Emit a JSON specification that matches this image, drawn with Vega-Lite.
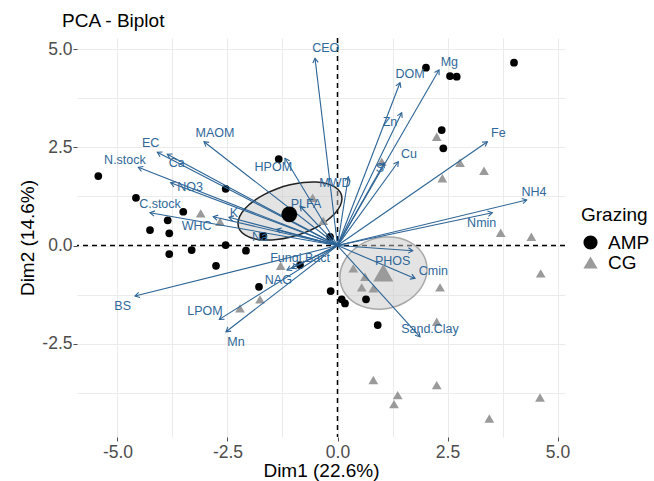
{
  "$schema": "https://vega.github.io/schema/vega-lite/v6.json",
  "autosize": "none",
  "width": 488,
  "height": 399,
  "padding": {"left": 77, "top": 38, "right": 89, "bottom": 44},
  "background": "white",
  "title": {"text": "PCA - Biplot", "anchor": "start", "frame": "group", "dx": -15, "dy": 19, "fontSize": 19, "font": "Liberation Sans", "fontWeight": "normal", "color": "black", "offset": 10, "baseline": "alphabetic"},
  "config": {
    "view": {"stroke": null},
    "font": "Liberation Sans",
    "axis": {"grid": true, "gridColor": "#ebebeb", "gridWidth": 1, "domain": false, "tickColor": "#4d4d4d", "tickSize": 4, "labelPadding": 1, "labelFontSize": 17.5, "labelColor": "#4d4d4d", "titleFontSize": 19, "titleFontWeight": "normal", "titleColor": "black", "labelFont": "Liberation Sans", "titleFont": "Liberation Sans",
      "labelExpr": "abs(datum.value % 2.5) < 0.01 ? replace(format(datum.value, '.1f'), '\u2212', '-') : ''",
      "tickOpacity": {"condition": {"test": "abs(datum.value % 2.5) > 0.01", "value": 0}, "value": 1}},
    "axisX": {"titlePadding": 1, "labelPadding": 2},
    "axisY": {"titlePadding": 4},
    "legend": {"titleFontSize": 19, "titleFontWeight": "normal", "labelFontSize": 19, "labelColor": "black", "titleColor": "black", "titleFont": "Liberation Sans", "labelFont": "Liberation Sans"}
  },
  "datasets": {
    "pts": [
      {"x": -5.436, "y": 1.768, "g": "AMP"}, {"x": -4.58, "y": 1.216, "g": "AMP"}, {"x": -3.505, "y": 0.86, "g": "AMP"},
      {"x": -3.859, "y": 0.641, "g": "AMP"}, {"x": -4.261, "y": 0.394, "g": "AMP"}, {"x": -3.823, "y": 0.31, "g": "AMP"},
      {"x": -2.541, "y": 1.445, "g": "AMP"}, {"x": -1.336, "y": 2.201, "g": "AMP"}, {"x": -1.686, "y": 0.249, "g": "AMP"},
      {"x": -0.17, "y": 0.224, "g": "AMP"}, {"x": -2.541, "y": 0.013, "g": "AMP"}, {"x": -3.823, "y": -0.216, "g": "AMP"},
      {"x": -3.314, "y": -0.115, "g": "AMP"}, {"x": -2.08, "y": -0.132, "g": "AMP"}, {"x": -2.761, "y": -0.514, "g": "AMP"},
      {"x": -1.784, "y": -1.048, "g": "AMP"}, {"x": -0.852, "y": -0.496, "g": "AMP"}, {"x": -0.155, "y": -1.158, "g": "AMP"},
      {"x": 0.095, "y": -1.369, "g": "AMP"}, {"x": 0.17, "y": -1.471, "g": "AMP"}, {"x": 0.648, "y": -1.369, "g": "AMP"},
      {"x": 0.914, "y": -2.023, "g": "AMP"}, {"x": 2.011, "y": 4.524, "g": "AMP"}, {"x": 2.557, "y": 4.313, "g": "AMP"},
      {"x": 2.709, "y": 4.295, "g": "AMP"}, {"x": 4.011, "y": 4.651, "g": "AMP"}, {"x": 2.368, "y": 2.939, "g": "AMP"},
      {"x": 2.405, "y": 2.473, "g": "AMP"},
      {"x": -3.109, "y": 0.819, "g": "CG"}, {"x": -2.67, "y": 0.606, "g": "CG"}, {"x": -0.564, "y": 1.216, "g": "CG"},
      {"x": -0.323, "y": 0.631, "g": "CG"}, {"x": -1.291, "y": -0.514, "g": "CG"}, {"x": -2.216, "y": -1.598, "g": "CG"},
      {"x": -1.761, "y": -1.369, "g": "CG"}, {"x": 0.359, "y": -0.58, "g": "CG"}, {"x": 0.625, "y": -0.794, "g": "CG"},
      {"x": 0.55, "y": -1.064, "g": "CG"}, {"x": 0.814, "y": -1.089, "g": "CG"}, {"x": 2.33, "y": -1.064, "g": "CG"},
      {"x": 2.255, "y": -1.939, "g": "CG"}, {"x": 4.618, "y": -0.707, "g": "CG"}, {"x": 0.814, "y": -3.422, "g": "CG"},
      {"x": 2.255, "y": -3.55, "g": "CG"}, {"x": 1.368, "y": -3.804, "g": "CG"}, {"x": 1.284, "y": -4.033, "g": "CG"},
      {"x": 4.602, "y": -3.863, "g": "CG"}, {"x": 3.45, "y": -4.397, "g": "CG"}, {"x": 3.709, "y": 0.326, "g": "CG"},
      {"x": 4.405, "y": 0.224, "g": "CG"}, {"x": 2.255, "y": 2.768, "g": "CG"}, {"x": 2.784, "y": 2.107, "g": "CG"},
      {"x": 2.382, "y": 1.71, "g": "CG"}, {"x": 3.33, "y": 1.903, "g": "CG"}, {"x": 1.005, "y": 2.132, "g": "CG"}
    ],
    "means": [
      {"x": -1.095, "y": 0.794, "g": "AMP"},
      {"x": 1.041, "y": -0.692, "g": "CG"}
    ],
    "arrows": [
      {"v": "CEO", "x": -0.511, "y": 4.763, "lx": -0.268, "ly": 5.018},
      {"v": "MAOM", "x": -3.034, "y": 2.641, "lx": -2.784, "ly": 2.855},
      {"v": "EC", "x": -4.095, "y": 2.372, "lx": -4.245, "ly": 2.616},
      {"v": "Ca", "x": -3.868, "y": 2.321, "lx": -3.655, "ly": 2.092},
      {"v": "N.stock", "x": -4.527, "y": 1.99, "lx": -4.83, "ly": 2.176},
      {"v": "NO3", "x": -3.791, "y": 1.598, "lx": -3.352, "ly": 1.481},
      {"v": "C.stock", "x": -4.261, "y": 0.835, "lx": -4.034, "ly": 1.056},
      {"v": "WHC", "x": -2.823, "y": 0.733, "lx": -3.2, "ly": 0.496},
      {"v": "K", "x": -2.466, "y": 0.718, "lx": -2.352, "ly": 0.835},
      {"v": "HPOM", "x": -1.193, "y": 2.219, "lx": -1.459, "ly": 1.99},
      {"v": "PLFA", "x": -0.85, "y": 1.0, "lx": -0.716, "ly": 1.048},
      {"v": "MWD", "x": 0.245, "y": 1.75, "lx": -0.057, "ly": 1.583},
      {"v": "Na", "x": -1.382, "y": 0.412, "lx": -1.761, "ly": 0.209},
      {"v": "Fungi.Bact", "x": -1.04, "y": -0.58, "lx": -0.852, "ly": -0.326},
      {"v": "NAG", "x": -1.148, "y": -0.623, "lx": -1.345, "ly": -0.878},
      {"v": "LPOM", "x": -2.686, "y": -1.878, "lx": -3.011, "ly": -1.667},
      {"v": "Mn", "x": -2.534, "y": -2.193, "lx": -2.307, "ly": -2.448},
      {"v": "BS", "x": -4.602, "y": -1.285, "lx": -4.882, "ly": -1.539},
      {"v": "DOM", "x": 1.42, "y": 4.143, "lx": 1.648, "ly": 4.364},
      {"v": "Mg", "x": 2.307, "y": 4.466, "lx": 2.541, "ly": 4.662},
      {"v": "Zn", "x": 1.459, "y": 3.379, "lx": 1.193, "ly": 3.15},
      {"v": "Cu", "x": 1.382, "y": 2.132, "lx": 1.625, "ly": 2.328},
      {"v": "S", "x": 1.06, "y": 2.1, "lx": 0.966, "ly": 1.972},
      {"v": "Fe", "x": 3.405, "y": 2.641, "lx": 3.655, "ly": 2.855},
      {"v": "NH4", "x": 4.3, "y": 1.158, "lx": 4.466, "ly": 1.369},
      {"v": "Nmin", "x": 3.518, "y": 0.835, "lx": 3.277, "ly": 0.58},
      {"v": "PHOS", "x": 1.709, "y": -0.132, "lx": 1.255, "ly": -0.387},
      {"v": "Cmin", "x": 1.761, "y": -0.835, "lx": 2.177, "ly": -0.641},
      {"v": "Sand.Clay", "x": 1.875, "y": -2.321, "lx": 2.102, "ly": -2.125}
    ],
    "ell": [
      {"g": "AMP", "o": 0, "x": 0.102, "y": 1.196}, {"g": "AMP", "o": 1, "x": 0.062, "y": 1.012}, {"g": "AMP", "o": 2, "x": -0.056, "y": 0.819},
      {"g": "AMP", "o": 3, "x": -0.244, "y": 0.631}, {"g": "AMP", "o": 4, "x": -0.489, "y": 0.459}, {"g": "AMP", "o": 5, "x": -0.774, "y": 0.316},
      {"g": "AMP", "o": 6, "x": -1.08, "y": 0.211}, {"g": "AMP", "o": 7, "x": -1.386, "y": 0.152}, {"g": "AMP", "o": 8, "x": -1.671, "y": 0.141},
      {"g": "AMP", "o": 9, "x": -1.916, "y": 0.181}, {"g": "AMP", "o": 10, "x": -2.104, "y": 0.269}, {"g": "AMP", "o": 11, "x": -2.222, "y": 0.398},
      {"g": "AMP", "o": 12, "x": -2.262, "y": 0.56}, {"g": "AMP", "o": 13, "x": -2.222, "y": 0.744}, {"g": "AMP", "o": 14, "x": -2.104, "y": 0.937},
      {"g": "AMP", "o": 15, "x": -1.916, "y": 1.125}, {"g": "AMP", "o": 16, "x": -1.671, "y": 1.297}, {"g": "AMP", "o": 17, "x": -1.386, "y": 1.44},
      {"g": "AMP", "o": 18, "x": -1.08, "y": 1.545}, {"g": "AMP", "o": 19, "x": -0.774, "y": 1.604}, {"g": "AMP", "o": 20, "x": -0.489, "y": 1.615},
      {"g": "AMP", "o": 21, "x": -0.244, "y": 1.575}, {"g": "AMP", "o": 22, "x": -0.056, "y": 1.487}, {"g": "AMP", "o": 23, "x": 0.062, "y": 1.358},
      {"g": "CG", "o": 0, "x": 2.035, "y": -0.6}, {"g": "CG", "o": 1, "x": 2.001, "y": -0.366}, {"g": "CG", "o": 2, "x": 1.902, "y": -0.155},
      {"g": "CG", "o": 3, "x": 1.745, "y": 0.018}, {"g": "CG", "o": 4, "x": 1.54, "y": 0.142}, {"g": "CG", "o": 5, "x": 1.301, "y": 0.21},
      {"g": "CG", "o": 6, "x": 1.045, "y": 0.215}, {"g": "CG", "o": 7, "x": 0.789, "y": 0.158}, {"g": "CG", "o": 8, "x": 0.55, "y": 0.042},
      {"g": "CG", "o": 9, "x": 0.345, "y": -0.124}, {"g": "CG", "o": 10, "x": 0.188, "y": -0.329}, {"g": "CG", "o": 11, "x": 0.089, "y": -0.56},
      {"g": "CG", "o": 12, "x": 0.055, "y": -0.8}, {"g": "CG", "o": 13, "x": 0.089, "y": -1.034}, {"g": "CG", "o": 14, "x": 0.188, "y": -1.245},
      {"g": "CG", "o": 15, "x": 0.345, "y": -1.418}, {"g": "CG", "o": 16, "x": 0.55, "y": -1.542}, {"g": "CG", "o": 17, "x": 0.789, "y": -1.61},
      {"g": "CG", "o": 18, "x": 1.045, "y": -1.615}, {"g": "CG", "o": 19, "x": 1.301, "y": -1.558}, {"g": "CG", "o": 20, "x": 1.54, "y": -1.442},
      {"g": "CG", "o": 21, "x": 1.745, "y": -1.276}, {"g": "CG", "o": 22, "x": 1.902, "y": -1.071}, {"g": "CG", "o": 23, "x": 2.001, "y": -0.84}
    ],
    "zero": [{"z": 0}]
  },
  "layer": [
    {"data": {"name": "zero"}, "mark": {"type": "rule", "color": "black", "strokeDash": [5, 4], "strokeWidth": 1.5},
      "encoding": {"x": {"field": "z", "type": "quantitative", "title": "Dim1 (22.6%)", "scale": {"domain": [-5.92, 5.17], "nice": false, "zero": false}, "axis": {"values": [-5, -3.75, -2.5, -1.25, 0, 1.25, 2.5, 3.75, 5]}}}},
    {"data": {"name": "zero"}, "mark": {"type": "rule", "color": "black", "strokeDash": [5, 4], "strokeWidth": 1.5},
      "encoding": {"y": {"field": "z", "type": "quantitative", "title": "Dim2 (14.6%)", "scale": {"domain": [-4.87, 5.28], "nice": false, "zero": false}, "axis": {"values": [-3.75, -2.5, -1.25, 0, 1.25, 2.5, 3.75, 5]}}}},
    {"data": {"name": "ell"}, "transform": [{"filter": "datum.g === 'AMP'"}], "mark": {"type": "line", "fill": "#c8c8c8", "fillOpacity": 0.5, "stroke": "#222222", "strokeWidth": 1.5, "interpolate": "cardinal-closed"},
      "encoding": {"x": {"field": "x", "type": "quantitative", "title": "Dim1 (22.6%)"}, "y": {"field": "y", "type": "quantitative", "title": "Dim2 (14.6%)"}, "order": {"field": "o", "type": "quantitative"}}},
    {"data": {"name": "ell"}, "transform": [{"filter": "datum.g === 'CG'"}], "mark": {"type": "line", "fill": "#c8c8c8", "fillOpacity": 0.5, "stroke": "#a8a8a8", "strokeWidth": 1.5, "interpolate": "cardinal-closed"},
      "encoding": {"x": {"field": "x", "type": "quantitative", "title": "Dim1 (22.6%)"}, "y": {"field": "y", "type": "quantitative", "title": "Dim2 (14.6%)"}, "order": {"field": "o", "type": "quantitative"}}},
    {"data": {"name": "pts"}, "transform": [{"filter": "datum.g === 'AMP'"}], "mark": {"type": "point", "filled": true, "opacity": 1, "size": 60},
      "encoding": {
        "x": {"field": "x", "type": "quantitative", "title": "Dim1 (22.6%)"},
        "y": {"field": "y", "type": "quantitative", "title": "Dim2 (14.6%)"},
        "color": {"field": "g", "type": "nominal", "title": "Grazing", "scale": {"domain": ["AMP", "CG"], "range": ["black", "#9a9a9a"]}, "legend": {"orient": "none", "legendX": 504, "legendY": 168, "symbolSize": 200, "rowPadding": 0, "titlePadding": 8, "labelOffset": 8}},
        "shape": {"field": "g", "type": "nominal", "title": "Grazing", "scale": {"domain": ["AMP", "CG"], "range": ["circle", "triangle-up"]}, "legend": {"orient": "none", "legendX": 504, "legendY": 168, "symbolSize": 200, "rowPadding": 0, "titlePadding": 8, "labelOffset": 8}}}},
    {"data": {"name": "pts"}, "transform": [{"filter": "datum.g === 'CG'"}], "mark": {"type": "point", "filled": true, "opacity": 1, "size": 95},
      "encoding": {
        "x": {"field": "x", "type": "quantitative", "title": "Dim1 (22.6%)"},
        "y": {"field": "y", "type": "quantitative", "title": "Dim2 (14.6%)"},
        "color": {"field": "g", "type": "nominal", "title": "Grazing"},
        "shape": {"field": "g", "type": "nominal", "title": "Grazing"}}},
    {"data": {"name": "arrows"}, "mark": {"type": "rule", "color": "#2c6496", "strokeWidth": 1.1},
      "encoding": {"x": {"field": "x", "type": "quantitative", "title": "Dim1 (22.6%)"}, "y": {"field": "y", "type": "quantitative", "title": "Dim2 (14.6%)"}, "x2": {"datum": 0}, "y2": {"datum": 0}}},
    {"data": {"name": "arrows"}, "transform": [{"calculate": "atan2(datum.x * 44.0, datum.y * 39.3) * 180 / PI", "as": "ang"}],
      "mark": {"type": "point", "shape": "M-0.6,1L0,0L0.6,1", "filled": false, "stroke": "#2c6496", "strokeWidth": 1.1, "size": 80, "opacity": 1},
      "encoding": {"x": {"field": "x", "type": "quantitative", "title": "Dim1 (22.6%)"}, "y": {"field": "y", "type": "quantitative", "title": "Dim2 (14.6%)"}, "angle": {"field": "ang", "type": "quantitative", "scale": null}}},
    {"data": {"name": "arrows"}, "mark": {"type": "text", "color": "#2f6899", "fontSize": 12.5, "font": "Liberation Sans", "align": "center", "baseline": "middle"},
      "encoding": {"x": {"field": "lx", "type": "quantitative", "title": "Dim1 (22.6%)"}, "y": {"field": "ly", "type": "quantitative", "title": "Dim2 (14.6%)"}, "text": {"field": "v"}}},
    {"data": {"name": "means"}, "transform": [{"filter": "datum.g === 'AMP'"}], "mark": {"type": "point", "filled": true, "opacity": 1, "size": 250},
      "encoding": {"x": {"field": "x", "type": "quantitative", "title": "Dim1 (22.6%)"}, "y": {"field": "y", "type": "quantitative", "title": "Dim2 (14.6%)"},
        "color": {"field": "g", "type": "nominal", "title": "Grazing"},
        "shape": {"field": "g", "type": "nominal", "title": "Grazing"}}},
    {"data": {"name": "means"}, "transform": [{"filter": "datum.g === 'CG'"}], "mark": {"type": "point", "filled": true, "opacity": 1, "size": 400},
      "encoding": {"x": {"field": "x", "type": "quantitative", "title": "Dim1 (22.6%)"}, "y": {"field": "y", "type": "quantitative", "title": "Dim2 (14.6%)"},
        "color": {"field": "g", "type": "nominal", "title": "Grazing"},
        "shape": {"field": "g", "type": "nominal", "title": "Grazing"}}}
  ]
}
